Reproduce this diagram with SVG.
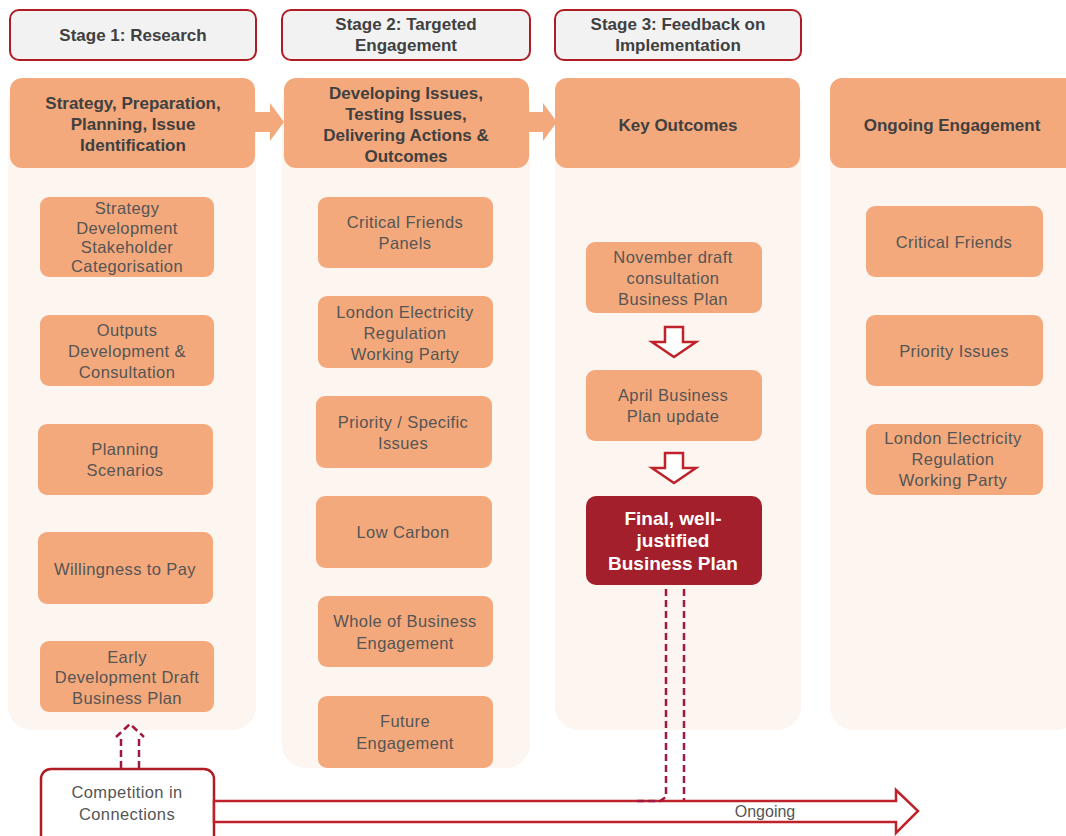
<svg xmlns="http://www.w3.org/2000/svg" width="1066" height="836" viewBox="0 0 1066 836">
<style>
.col{fill:#fdf5f0}
.stage{fill:#f2f2f2;stroke:#b01c24;stroke-width:2}
.hdr{fill:#f4a97c}
.box{fill:#f4a97c}
.ht{font-family:"Liberation Sans",Arial,sans-serif;font-size:17px;font-weight:bold;fill:#404040;text-anchor:middle}
.bt{font-family:"Liberation Sans",Arial,sans-serif;font-size:16.5px;fill:#555555;text-anchor:middle;letter-spacing:0.4px}
.ft{font-family:"Liberation Sans",Arial,sans-serif;font-size:19px;font-weight:bold;fill:#ffffff;text-anchor:middle}
.dash{fill:none;stroke:#9e1a44;stroke-width:2.5;stroke-dasharray:7 4}
.oarrow{fill:#ffffff;stroke:#c0222b;stroke-width:2.5}
</style>
<rect width="1066" height="836" fill="#ffffff"/>
<g id="columns">
<rect class="col" x="8" y="80" width="248" height="650" rx="24"/>
<rect class="col" x="282" y="80" width="248" height="688" rx="24"/>
<rect class="col" x="555" y="80" width="246" height="650" rx="24"/>
<rect class="col" x="830" y="80" width="250" height="650" rx="24"/>
</g>
<g id="stage1"><rect class="stage" x="10" y="10" width="246" height="50" rx="9"/><text class="ht" x="133" y="41">Stage 1: Research</text></g>
<g id="stage2"><rect class="stage" x="282" y="10" width="248" height="50" rx="9"/><text class="ht" x="406" y="30">Stage 2: Targeted</text><text class="ht" x="406" y="51">Engagement</text></g>
<g id="stage3"><rect class="stage" x="555" y="10" width="246" height="50" rx="9"/><text class="ht" x="678" y="30">Stage 3: Feedback on</text><text class="ht" x="678" y="51">Implementation</text></g>

<g id="hdr1"><rect class="hdr" x="10" y="78" width="245" height="90" rx="12"/><text class="ht" x="133" y="109">Strategy, Preparation,</text><text class="ht" x="133" y="130">Planning, Issue</text><text class="ht" x="133" y="151">Identification</text></g>
<g id="hdr2"><rect class="hdr" x="284" y="78" width="245" height="90" rx="12"/><text class="ht" x="406" y="99">Developing Issues,</text><text class="ht" x="406" y="120">Testing Issues,</text><text class="ht" x="406" y="141">Delivering Actions &amp;</text><text class="ht" x="406" y="162">Outcomes</text></g>
<g id="hdr3"><rect class="hdr" x="555" y="78" width="245" height="90" rx="12"/><text class="ht" x="678" y="131">Key Outcomes</text></g>
<g id="hdr4"><rect class="hdr" x="830" y="78" width="250" height="90" rx="12"/><text class="ht" x="952" y="131">Ongoing Engagement</text></g>

<g id="c1b1"><rect class="box" x="40" y="197" width="174" height="80" rx="9"/><text class="bt" x="127" y="214">Strategy</text><text class="bt" x="127" y="234">Development</text><text class="bt" x="127" y="253">Stakeholder</text><text class="bt" x="127" y="272">Categorisation</text></g>
<g id="c1b2"><rect class="box" x="40" y="315" width="174" height="71" rx="9"/><text class="bt" x="127" y="336">Outputs</text><text class="bt" x="127" y="357">Development &amp;</text><text class="bt" x="127" y="378">Consultation</text></g>
<g id="c1b3"><rect class="box" x="38" y="424" width="175" height="71" rx="9"/><text class="bt" x="125" y="455">Planning</text><text class="bt" x="125" y="476">Scenarios</text></g>
<g id="c1b4"><rect class="box" x="38" y="532" width="175" height="72" rx="9"/><text class="bt" x="125" y="575">Willingness to Pay</text></g>
<g id="c1b5"><rect class="box" x="40" y="641" width="174" height="71" rx="9"/><text class="bt" x="127" y="663">Early</text><text class="bt" x="127" y="683">Development Draft</text><text class="bt" x="127" y="704">Business Plan</text></g>

<g id="c2b1"><rect class="box" x="318" y="197" width="175" height="71" rx="9"/><text class="bt" x="405" y="228">Critical Friends</text><text class="bt" x="405" y="249">Panels</text></g>
<g id="c2b2"><rect class="box" x="318" y="296" width="175" height="72" rx="9"/><text class="bt" x="405" y="318">London Electricity</text><text class="bt" x="405" y="339">Regulation</text><text class="bt" x="405" y="360">Working Party</text></g>
<g id="c2b3"><rect class="box" x="316" y="396" width="176" height="72" rx="9"/><text class="bt" x="403" y="428">Priority / Specific</text><text class="bt" x="403" y="449">Issues</text></g>
<g id="c2b4"><rect class="box" x="316" y="496" width="176" height="72" rx="9"/><text class="bt" x="403" y="538">Low Carbon</text></g>
<g id="c2b5"><rect class="box" x="318" y="596" width="175" height="71" rx="9"/><text class="bt" x="405" y="627">Whole of Business</text><text class="bt" x="405" y="649">Engagement</text></g>
<g id="c2b6"><rect class="box" x="318" y="696" width="175" height="72" rx="9"/><text class="bt" x="405" y="727">Future</text><text class="bt" x="405" y="749">Engagement</text></g>

<g id="c3b1"><rect class="box" x="586" y="242" width="176" height="71" rx="9"/><text class="bt" x="673" y="263">November draft</text><text class="bt" x="673" y="284">consultation</text><text class="bt" x="673" y="305">Business Plan</text></g>
<g id="c3b2"><rect class="box" x="586" y="370" width="176" height="71" rx="9"/><text class="bt" x="673" y="401">April Business</text><text class="bt" x="673" y="422">Plan update</text></g>
<g id="c3b3"><rect x="586" y="496" width="176" height="89" rx="10" fill="#a31f2b"/><text class="ft" x="673" y="525">Final, well-</text><text class="ft" x="673" y="547">justified</text><text class="ft" x="673" y="570">Business Plan</text></g>

<g id="c4b1"><rect class="box" x="866" y="206" width="177" height="71" rx="9"/><text class="bt" x="954" y="248">Critical Friends</text></g>
<g id="c4b2"><rect class="box" x="866" y="315" width="177" height="71" rx="9"/><text class="bt" x="954" y="357">Priority Issues</text></g>
<g id="c4b3"><rect class="box" x="866" y="424" width="177" height="71" rx="9"/><text class="bt" x="953" y="444">London Electricity</text><text class="bt" x="953" y="465">Regulation</text><text class="bt" x="953" y="486">Working Party</text></g>

<g id="competition"><rect x="41" y="769" width="173" height="80" rx="10" fill="#ffffff" stroke="#b01c24" stroke-width="2.5"/><text class="bt" x="127" y="798">Competition in</text><text class="bt" x="127" y="820">Connections</text></g>

<g id="connectors">
<polygon points="255,112 270,112 270,103 284,122 270,141 270,132 255,132" fill="#f4a97c"/>
<polygon points="529,112 543,112 543,103 557,122 543,141 543,132 529,132" fill="#f4a97c"/>
<polygon class="oarrow" points="665,327 683,327 683,342 696,342 674,357 652,342 665,342"/>
<polygon class="oarrow" points="665,453 683,453 683,468 696,468 674,483 652,468 665,468"/>
<polygon class="oarrow" points="214,801 896,801 896,790 918,811 896,833 896,822 214,822"/>
<text class="bt" x="765" y="817" style="font-size:16px;letter-spacing:0">Ongoing</text>
<path class="dash" d="M666,589 V797 L660,801 H634"/>
<path class="dash" d="M684,589 V800"/>
<path class="dash" d="M121,768 V737 M139,768 V737 M116,737 L130,724 L144,737"/>
</g>
</svg>
